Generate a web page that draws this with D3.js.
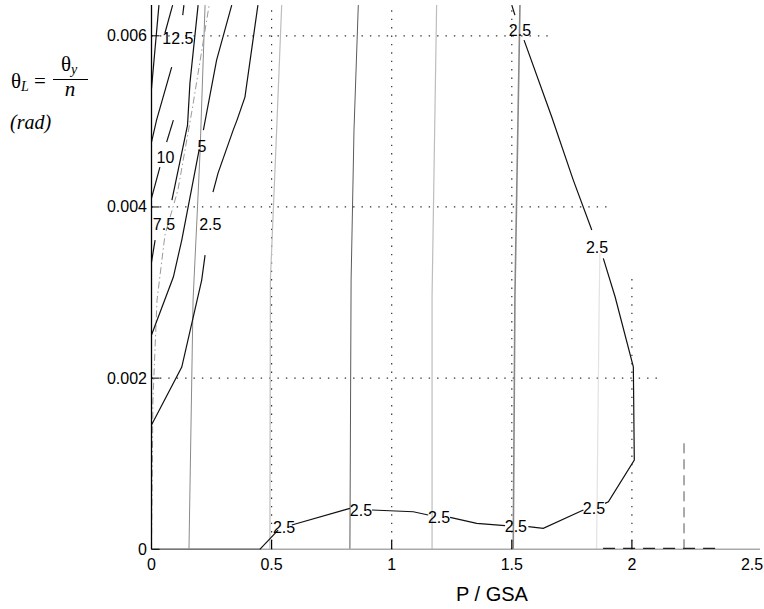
<!DOCTYPE html>
<html>
<head>
<meta charset="utf-8">
<script src="https://cdn.jsdelivr.net/npm/d3@7"></script>
<style>
  body { margin: 0; background: #fff; }
  svg text { font-family: "Liberation Sans", Arial, Helvetica, sans-serif; }
  .serif { font-family: "Liberation Serif", "Times New Roman", serif !important; }
</style>
</head>
<body>
<div class="js-container"></div>
<script>
;(function() {
  'use strict';

  // axis ticks
  var xTicks = [0, 0.5, 1, 1.5, 2, 2.5];
  var xTickMarks = [0.5, 1, 1.5, 2];
  var yTicks = [0, 0.002, 0.004, 0.006];

  // dotted grid, each line with its own extent
  var xGrid = [0.5, 1, 1.5, 2];
  var xGridTop = [0.00636, 0.00636, 0.00636, 0.0032];
  var yGrid = [0.002, 0.004, 0.006];
  var yGridEnd = [2.13, 1.9, 1.67];

  // black contour segments [P/GSA, theta_L] (broken where labels sit)
  var c25LeftA = [[0, 0.001452], [0.126, 0.00213], [0.209, 0.003146], [0.223, 0.003438]];
  var c25LeftB = [[0.256, 0.004174], [0.277, 0.004396], [0.34, 0.004898], [0.356, 0.005015], [0.389, 0.005284], [0.443, 0.006359]];
  var c5A = [[0, 0.002504], [0.091, 0.003181], [0.126, 0.003613], [0.198, 0.004665]];
  var c5B = [[0.216, 0.004899], [0.271, 0.005716], [0.334, 0.006359]];
  var c75A = [[0, 0.003356], [0.015, 0.003613]];
  var c75B = [[0.085, 0.004081], [0.15, 0.004957], [0.16, 0.005447], [0.194, 0.006359]];
  var c10A = [[0, 0.004104], [0.035, 0.004466]];
  var c10B = [[0.063, 0.004758], [0.091, 0.005015]];
  var c125A = [[0, 0.004758], [0.021, 0.005015], [0.084, 0.005634]];
  var c125B = [[0.13, 0.006241], [0.135, 0.006359]];
  var c15 = [[0.056, 0.006033], [0.088, 0.006359]];
  var c175 = [[0, 0.005384], [0.031, 0.006359]];
  var c25Right = [[0.451, 0], [0.527, 0.000225]];
  var c25RightB = [[0.584, 0.000284], [0.826, 0.000479]];
  var c25RightC = [[0.918, 0.000459], [1.09, 0.000439], [1.152, 0.000401]];
  var c25RightD = [[1.243, 0.000374], [1.354, 0.000304], [1.472, 0.000276]];
  var c25RightE = [[1.569, 0.000264], [1.631, 0.000245], [1.798, 0.000459]];
  var c25RightF = [[1.888, 0.000537], [1.902, 0.000556], [2.01, 0.001043], [2.006, 0.002133], [1.93, 0.002951], [1.881, 0.0034]];
  var c25RightG = [[1.833, 0.00373], [1.756, 0.004314], [1.666, 0.005054], [1.551, 0.00595]];
  var c25RightH = [[1.513, 0.006241], [1.5, 0.006358]];

  var blackContours = [c25LeftA, c25LeftB, c5A, c5B, c75A, c75B, c10A, c10B,
    c125A, c125B, c15, c175, c25Right, c25RightB, c25RightC, c25RightD,
    c25RightE, c25RightF, c25RightG, c25RightH];

  // contour labels
  var labelText = ['2.5', '5', '7.5', '10', '12.5', '2.5', '2.5', '2.5', '2.5', '2.5', '2.5', '2.5'];
  var labelP = [0.245, 0.21, 0.052, 0.058, 0.11, 0.552, 0.872, 1.197, 1.517, 1.842, 1.855, 1.534];
  var labelT = [0.00380, 0.004706, 0.0038, 0.004582, 0.00597, 0.000249, 0.000459, 0.000377, 0.000261, 0.000482, 0.003531, 0.006066];

  // grey near-vertical contours
  var g1 = [[0.156, 0], [0.173, 0.002912], [0.189, 0.003847], [0.202, 0.00463], [0.223, 0.006359]];
  var g2 = [[0.493, 0], [0.495, 0.003146], [0.521, 0.004898], [0.542, 0.006359]];
  var g3 = [[0.826, 0], [0.831, 0.003146], [0.843, 0.004898], [0.861, 0.006359]];
  var g4 = [[1.168, 0], [1.168, 0.002947], [1.187, 0.006359]];
  var g5 = [[1.506, 0], [1.513, 0.002947], [1.534, 0.006359]];
  var g6 = [[1.853, 0], [1.864, 0.002947], [1.867, 0.003461]];
  var greyLines = [g1, g2, g3, g4, g5, g6];
  var greyColors = ['#8a8a8a', '#bdbdbd', '#5a5a5a', '#bdbdbd', '#888', '#e2e2e2'];
  var greyWidths = [1, 1.2, 1, 1.2, 1.6, 1.2];

  // dash-dot grey line near the axis, and dashed limits
  var dashDot = [[0, 0], [0.006, 0.001744], [0.023, 0.002912], [0.056, 0.003672], [0.11, 0.004198], [0.169, 0.005133], [0.24, 0.006359]];
  var dashVert = [[2.217, 0], [2.217, 0.00126]];
  var dashBase = [[1.88, 0.00001], [2.37, 0.00001]];
  var baseDark = [[0, 0], [0.451, 0]];

  var W = 764, H = 609;
  var svg = d3.select('.js-container').append('svg')
      .attr('width', W).attr('height', H);

  var x = d3.scaleLinear().domain([0, 2.5]).range([151.5, 752]);
  var y = d3.scaleLinear().domain([0, 0.00636]).range([549.3, 5]);

  var line = d3.line()
      .x(function(d) { return x(d[0]); })
      .y(function(d) { return y(d[1]); });

  // grid
  var dot = '1.4,7';
  xGrid.forEach(function(v, i) {
    svg.append('line')
        .attr('x1', x(v)).attr('x2', x(v))
        .attr('y1', y(0)).attr('y2', y(xGridTop[i]))
        .attr('stroke', '#333').attr('stroke-width', 1.2)
        .attr('stroke-dasharray', dot);
  });
  yGrid.forEach(function(v, i) {
    svg.append('line')
        .attr('x1', x(0)).attr('x2', x(yGridEnd[i]))
        .attr('y1', y(v)).attr('y2', y(v))
        .attr('stroke', '#333').attr('stroke-width', 1.2)
        .attr('stroke-dasharray', dot);
  });

  // grey contours
  greyLines.forEach(function(d, i) {
    svg.append('path').attr('d', line(d))
        .attr('fill', 'none')
        .attr('stroke', greyColors[i])
        .attr('stroke-width', greyWidths[i]);
  });

  svg.append('path').attr('d', line(dashDot))
      .attr('fill', 'none').attr('stroke', '#9a9a9a')
      .attr('stroke-width', 1).attr('stroke-dasharray', '7,3,1.5,3');

  // base line
  svg.append('line')
      .attr('x1', x(0)).attr('x2', 760)
      .attr('y1', y(0)).attr('y2', y(0))
      .attr('stroke', '#aaa').attr('stroke-width', 1.6);
  svg.append('path').attr('d', line(baseDark))
      .attr('fill', 'none').attr('stroke', '#777')
      .attr('stroke-width', 1.6);

  svg.append('path').attr('d', line(dashVert))
      .attr('fill', 'none').attr('stroke', '#555')
      .attr('stroke-width', 1).attr('stroke-dasharray', '10,6');
  svg.append('path').attr('d', line(dashBase))
      .attr('fill', 'none').attr('stroke', '#222')
      .attr('stroke-width', 1.2).attr('stroke-dasharray', '12,8');

  // black contours
  blackContours.forEach(function(d) {
    svg.append('path').attr('d', line(d))
        .attr('fill', 'none')
        .attr('stroke', '#111')
        .attr('stroke-width', 1.2);
  });

  labelText.forEach(function(t, i) {
    svg.append('text')
        .attr('x', x(labelP[i])).attr('y', y(labelT[i]))
        .attr('text-anchor', 'middle')
        .attr('dominant-baseline', 'central')
        .attr('font-size', 16)
        .text(t);
  });

  // y axis line and ticks
  svg.append('line')
      .attr('x1', x(0)).attr('x2', x(0))
      .attr('y1', y(0)).attr('y2', 5)
      .attr('stroke', '#000').attr('stroke-width', 1.3);

  yTicks.forEach(function(v) {
    svg.append('line')
        .attr('x1', x(0)).attr('x2', x(0) + 8)
        .attr('y1', y(v)).attr('y2', y(v))
        .attr('stroke', '#000');
    svg.append('text')
        .attr('x', 147).attr('y', y(v))
        .attr('text-anchor', 'end')
        .attr('dominant-baseline', 'central')
        .attr('font-size', 16)
        .text(v === 0 ? '0' : d3.format('.3f')(v));
  });

  xTickMarks.forEach(function(v) {
    svg.append('line')
        .attr('x1', x(v)).attr('x2', x(v))
        .attr('y1', y(0)).attr('y2', y(0) - 9)
        .attr('stroke', '#000').attr('stroke-width', 1.2);
  });
  xTicks.forEach(function(v) {
    svg.append('text')
        .attr('x', x(v)).attr('y', 570)
        .attr('text-anchor', 'middle')
        .attr('font-size', 16)
        .text(v);
  });

  svg.append('text')
      .attr('x', 492).attr('y', 601)
      .attr('text-anchor', 'middle')
      .attr('font-size', 20)
      .text('P / GSA');

  // y label: theta_L = theta_y / n  (rad)
  var lab = svg.append('g');
  var t1 = lab.append('text').attr('class', 'serif')
      .attr('x', 11).attr('y', 88).attr('font-size', 21);
  t1.append('tspan').text('θ');
  t1.append('tspan').attr('font-size', 14).attr('font-style', 'italic')
      .attr('dy', 3).text('L');
  t1.append('tspan').attr('dy', -3).text(' =');
  var t2 = lab.append('text').attr('class', 'serif')
      .attr('x', 61).attr('y', 71).attr('font-size', 21);
  t2.append('tspan').text('θ');
  t2.append('tspan').attr('font-size', 14).attr('font-style', 'italic')
      .attr('dy', 3).text('y');
  lab.append('line')
      .attr('x1', 53).attr('x2', 88).attr('y1', 79.5).attr('y2', 79.5)
      .attr('stroke', '#000').attr('stroke-width', 1);
  lab.append('text').attr('class', 'serif')
      .attr('x', 70).attr('y', 96).attr('text-anchor', 'middle')
      .attr('font-size', 21).attr('font-style', 'italic')
      .text('n');
  lab.append('text').attr('class', 'serif')
      .attr('x', 10).attr('y', 129)
      .attr('font-size', 20).attr('font-style', 'italic')
      .text('(rad)');
}());
</script>
</body>
</html>
